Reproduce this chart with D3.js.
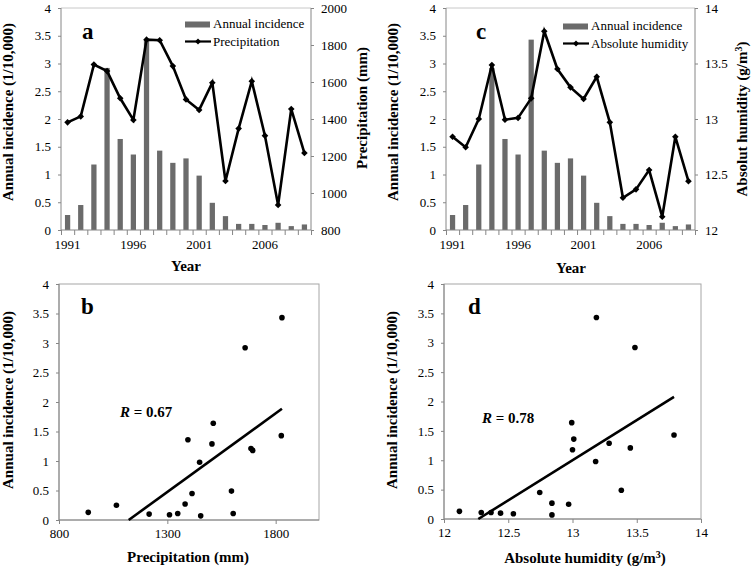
<!DOCTYPE html>
<html>
<head>
<meta charset="utf-8">
<script src="https://cdn.jsdelivr.net/npm/d3@7"></script>
<style>
  body { margin: 0; background: #fff; }
  svg { display: block; font-family: "Liberation Serif", "Times New Roman", serif; }
</style>
</head>
<body>
<svg></svg>
<script>
let width = 754, height = 568;

// data
const years = d3.range(1991, 2010);
const incidence = [0.27, 0.45, 1.18, 2.92, 1.64, 1.36, 3.43, 1.43, 1.21, 1.29, 0.98, 0.49, 0.25, 0.11, 0.11, 0.09, 0.13, 0.07, 0.10];
const precipitation = [1382, 1414, 1694, 1659, 1512, 1395, 1829, 1826, 1686, 1506, 1449, 1596, 1065, 1348, 1604, 1310, 935, 1454, 1216];
const humidity = [12.84, 12.745, 13.0, 13.486, 12.994, 13.01, 13.186, 13.79, 13.45, 13.285, 13.18, 13.38, 12.97, 12.29, 12.366, 12.54, 12.12, 12.84, 12.44];

// tick labels
const incTicks = [0, 0.5, 1, 1.5, 2, 2.5, 3, 3.5, 4];
const yearTicks = [1991, 1996, 2001, 2006];
const precipTicks = [800, 1000, 1200, 1400, 1600, 1800, 2000];
const humTicks = [12, 12.5, 13, 13.5, 14];
const precipScatterTicks = [800, 1300, 1800];

const axisGrey = "#868686";
const barGrey = "#6b6b6b";

let svg = d3.select("svg")
    .attr("width", width)
    .attr("height", height);

function styleAxis(g) {
    g.select(".domain").remove();
    g.selectAll("line").attr("stroke", axisGrey);
    g.selectAll("text")
        .attr("fill", "#000")
        .style("font-size", "13px")
        .style("font-family", "Liberation Serif");
}

function leftTitle(x, y, text) {
    svg.append("text")
        .attr("transform", `translate(${x},${y}) rotate(-90)`)
        .attr("text-anchor", "middle")
        .style("font-size", "15px")
        .style("font-weight", "bold")
        .text(text);
}

function bottomTitle(x, y, text, sup) {
    let t = svg.append("text")
        .attr("x", x)
        .attr("y", y)
        .attr("text-anchor", "middle")
        .style("font-size", "15px")
        .style("font-weight", "bold")
        .text(text);
    if (sup) {
        t.append("tspan").attr("dy", -5).style("font-size", "10px").text(sup);
        t.append("tspan").attr("dy", 5).text(")");
    }
}

function panelLetter(x, y, l) {
    svg.append("text")
        .attr("x", x).attr("y", y)
        .style("font-size", "23px")
        .style("font-weight", "bold")
        .text(l);
}

function diamond(sel, x, y, s) {
    sel.append("path")
        .attr("d", `M${x},${y - s}L${x + s},${y}L${x},${y + s}L${x - s},${y}Z`)
        .attr("fill", "#000");
}

/* Combined bar + line panel */
function drawCombo(p) {
    const g = svg.append("g");
    const x = d3.scaleBand().domain(years).range([p.x0, p.x1]).paddingInner(0.6).paddingOuter(0.3);
    const xIdx = d3.scaleLinear().domain([0, years.length]).range([p.x0, p.x1]);
    const yL = d3.scaleLinear().domain([0, 4]).range([p.y1, p.y0]);
    const yR = d3.scaleLinear().domain(p.rDomain).range([p.y1, p.y0]);

    // plot border (top)
    g.append("line")
        .attr("x1", p.x0).attr("x2", p.x1).attr("y1", p.y0).attr("y2", p.y0)
        .attr("stroke", "#c8c8c8");

    // bars
    g.selectAll("rect.bar")
        .data(years)
        .enter()
        .append("rect")
        .attr("x", d => x(d))
        .attr("width", x.bandwidth())
        .attr("y", (d, i) => yL(incidence[i]))
        .attr("height", (d, i) => yL(0) - yL(incidence[i]))
        .attr("fill", barGrey);

    // axes
    g.append("g").attr("transform", `translate(${p.x0},0)`)
        .call(d3.axisLeft(yL).tickValues(incTicks).tickFormat(d3.format("")).tickSize(3).tickPadding(7))
        .call(styleAxis);
    g.append("g").attr("transform", `translate(${p.x1},0)`)
        .call(d3.axisRight(yR).tickValues(p.rTicks).tickFormat(d3.format("")).tickSize(3).tickPadding(7))
        .call(styleAxis);
    g.append("g").attr("transform", `translate(0,${p.y1})`)
        .call(d3.axisBottom(xIdx).tickValues(d3.range(0, years.length + 1)).tickFormat("").tickSize(5))
        .call(styleAxis);
    g.append("g").attr("transform", `translate(0,${p.y1})`)
        .call(d3.axisBottom(x).tickValues(yearTicks).tickSize(0).tickPadding(10))
        .call(styleAxis);

    // axis lines
    g.append("line").attr("x1", p.x0).attr("x2", p.x0).attr("y1", p.y0).attr("y2", p.y1).attr("stroke", axisGrey);
    g.append("line").attr("x1", p.x1).attr("x2", p.x1).attr("y1", p.y0).attr("y2", p.y1).attr("stroke", axisGrey);
    g.append("line").attr("x1", p.x0).attr("x2", p.x1).attr("y1", p.y1).attr("y2", p.y1).attr("stroke", axisGrey);

    // line series
    const line = d3.line()
        .x((d, i) => x(years[i]) + x.bandwidth() / 2)
        .y(d => yR(d));
    g.append("path")
        .datum(p.series)
        .attr("d", line)
        .attr("fill", "none")
        .attr("stroke", "#000")
        .attr("stroke-width", 2.6)
        .attr("stroke-linejoin", "miter");
    p.series.forEach((v, i) => diamond(g, x(years[i]) + x.bandwidth() / 2, yR(v), 3.3));

    // legend
    g.append("rect")
        .attr("x", p.lx).attr("y", p.ly - 6.5)
        .attr("width", 25).attr("height", 6)
        .attr("fill", barGrey);
    g.append("text").attr("x", p.lx + 28).attr("y", p.ly)
        .style("font-size", "13px").text("Annual incidence");
    g.append("line")
        .attr("x1", p.lx).attr("x2", p.lx + 26)
        .attr("y1", p.ly + 13.5).attr("y2", p.ly + 13.5)
        .attr("stroke", "#000").attr("stroke-width", 2.2);
    diamond(g, p.lx + 13, p.ly + 13.5, 3);
    g.append("text").attr("x", p.lx + 28).attr("y", p.ly + 18)
        .style("font-size", "13px").text(p.seriesName);
}

/* Scatter panel with least-squares line */
function drawScatter(p) {
    const g = svg.append("g");
    const x = d3.scaleLinear().domain(p.xDomain).range([p.x0, p.x1]);
    const y = d3.scaleLinear().domain([0, 4]).range([p.y1, p.y0]);

    // plot border
    g.append("rect")
        .attr("x", p.x0).attr("y", p.y0)
        .attr("width", p.x1 - p.x0).attr("height", p.y1 - p.y0)
        .attr("fill", "none").attr("stroke", "#a6a6a6");

    g.append("g").attr("transform", `translate(${p.x0},0)`)
        .call(d3.axisLeft(y).tickValues(incTicks).tickFormat(d3.format("")).tickSize(3).tickPadding(7))
        .call(styleAxis);
    g.append("g").attr("transform", `translate(0,${p.y1})`)
        .call(d3.axisBottom(x).tickValues(p.xTicks).tickFormat(d3.format("")).tickSize(4).tickPadding(5))
        .call(styleAxis);
    g.append("line").attr("x1", p.x0).attr("x2", p.x0).attr("y1", p.y0).attr("y2", p.y1).attr("stroke", axisGrey);
    g.append("line").attr("x1", p.x0).attr("x2", p.x1).attr("y1", p.y1).attr("y2", p.y1).attr("stroke", axisGrey);

    // regression
    const mx = d3.mean(p.xs), my = d3.mean(incidence);
    const sxy = d3.sum(p.xs, (v, i) => (v - mx) * (incidence[i] - my));
    const sxx = d3.sum(p.xs, v => (v - mx) * (v - mx));
    const slope = sxy / sxx, icpt = my - slope * mx;
    const xa = Math.max(d3.min(p.xs), -icpt / slope), xb = d3.max(p.xs);
    g.append("line")
        .attr("x1", x(xa)).attr("y1", y(slope * xa + icpt))
        .attr("x2", x(xb)).attr("y2", y(slope * xb + icpt))
        .attr("stroke", "#000").attr("stroke-width", 2.6);

    g.selectAll("circle")
        .data(p.xs)
        .enter()
        .append("circle")
        .attr("cx", d => x(d))
        .attr("cy", (d, i) => y(incidence[i]))
        .attr("r", 2.8)
        .attr("fill", "#000");

    let t = g.append("text").attr("x", p.rx).attr("y", p.ry)
        .style("font-size", "15px").style("font-weight", "bold");
    t.append("tspan").style("font-style", "italic").text("R");
    t.append("tspan").text(" = " + p.r);
}

drawCombo({x0: 61, x1: 311, y0: 8, y1: 230, rDomain: [800, 2000], rTicks: precipTicks,
    series: precipitation, seriesName: "Precipitation", lx: 185, ly: 28});
drawCombo({x0: 446, x1: 695, y0: 8, y1: 230, rDomain: [12, 14], rTicks: humTicks,
    series: humidity, seriesName: "Absolute humidity", lx: 563, ly: 30});
drawScatter({x0: 59, x1: 319, y0: 284, y1: 520, xDomain: [800, 2000], xTicks: precipScatterTicks,
    xs: precipitation, r: "0.67", rx: 120, ry: 417});
drawScatter({x0: 444, x1: 701, y0: 284, y1: 519, xDomain: [12, 14], xTicks: humTicks,
    xs: humidity, r: "0.78", rx: 482, ry: 423});

// titles
leftTitle(13, 112, "Annual incidence (1/10,000)");
leftTitle(398, 112, "Annual incidence (1/10,000)");
leftTitle(13, 400, "Annual incidence (1/10,000)");
leftTitle(397, 400, "Annual incidence (1/10,000)");
leftTitle(367, 108, "Precipitation (mm)");

// right title of panel c, with superscript
let rt = svg.append("text")
    .attr("transform", "translate(747,119) rotate(-90)")
    .attr("text-anchor", "middle")
    .style("font-size", "15px")
    .style("font-weight", "bold")
    .text("Absolut humidity (g/m");
rt.append("tspan").attr("dy", -5).style("font-size", "10px").text("3");
rt.append("tspan").attr("dy", 5).text(")");

bottomTitle(186, 271, "Year");
bottomTitle(571, 273, "Year");
bottomTitle(188, 562, "Precipitation (mm)");
bottomTitle(585, 563, "Absolute humidity (g/m", "3");

panelLetter(82, 39, "a");
panelLetter(476, 39, "c");
panelLetter(81, 314, "b");
panelLetter(468, 314, "d");
</script>
</body>
</html>
